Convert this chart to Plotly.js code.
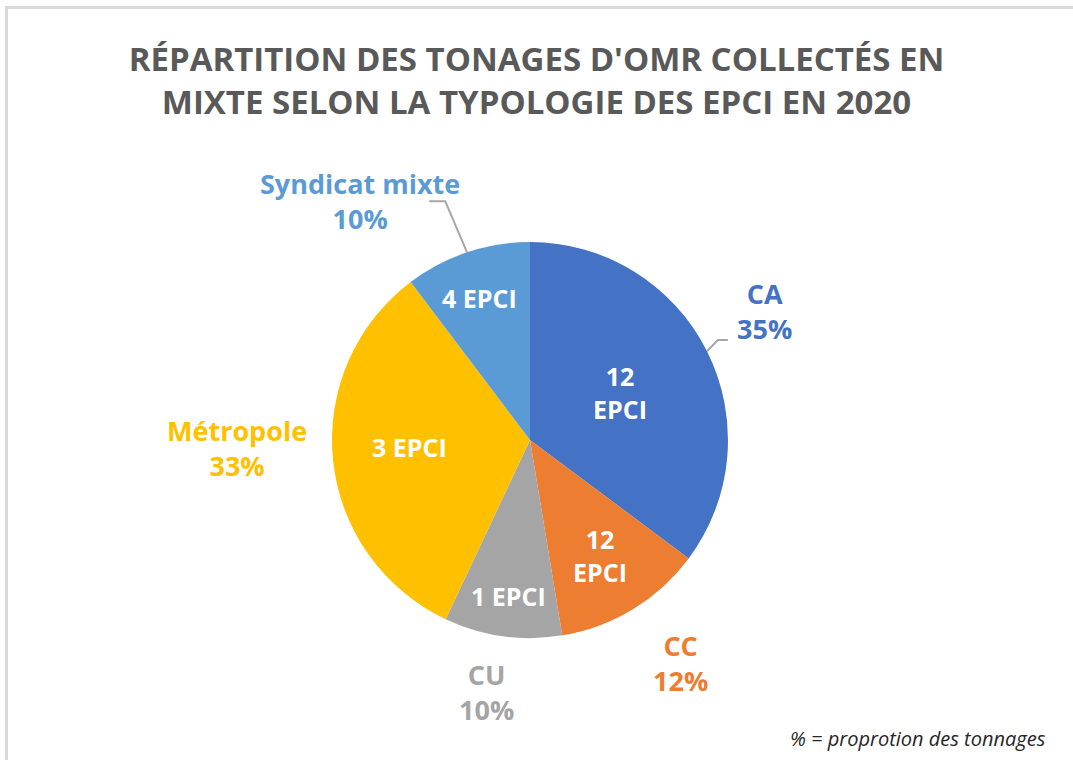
<!DOCTYPE html>
<html>
<head>
<meta charset="utf-8">
<script src="https://cdn.plot.ly/plotly-3.0.1.min.js"></script>
<style>
  html, body { margin: 0; padding: 0; background: #ffffff; }
  #chart { width: 1073px; height: 760px; }
</style>
</head>
<body>
<div id="chart"></div>
<script>
// ---- data ----
const categories = ['CA', 'CC', 'CU', 'Métropole', 'Syndicat mixte'];
const shares = [35.2, 12.2, 9.6, 32.7, 10.3];          // % of tonnages
const epciCounts = [12, 12, 1, 3, 4];                  // number of EPCI
const insideTexts = ['12<br>EPCI', '12<br>EPCI', '1 EPCI', '3 EPCI', '4 EPCI'];
const titleText = "RÉPARTITION DES TONAGES D'OMR COLLECTÉS EN<br>MIXTE SELON LA TYPOLOGIE DES EPCI EN 2020";
const footnoteText = '% = proprotion des tonnages';

// ---- styles / layout ----
const W = 1073, H = 760;
const colors = ['#4472C4', '#ED7D31', '#A5A5A5', '#FFC000', '#5B9BD5'];
const FONT = '"Open Sans", "DejaVu Sans", sans-serif';
const cx = 530, cy = 440, R = 198;        // pie centre & radius in px
const insideR = [0.515, 0.68, 0.795, 0.61, 0.76];
const insideDA = [-1, 0, 0, 2.7, -1];
const outsideR = [1.35, 1.36, 1.29, 1.48, 1.48];
const outsideDA = [-2.1, -2.6, 1.8, 4.4, -16.8];

const px2x = x => x / W;
const px2y = y => 1 - y / H;

const total = shares.reduce((a, b) => a + b, 0);
let cum = 0;
const midAngles = shares.map(v => { const m = (cum + v / 2) / total * 360; cum += v; return m; });
const polar = (deg, r) => {
  const t = deg * Math.PI / 180;
  return [cx + r * Math.sin(t), cy - r * Math.cos(t)];
};

const annotations = [];
categories.forEach((c, i) => {
  const [ix, iy] = polar(midAngles[i] + insideDA[i], R * insideR[i]);
  annotations.push({
    x: px2x(ix), y: px2y(iy), xref: 'paper', yref: 'paper',
    text: insideTexts[i], showarrow: false, xanchor: 'center', yanchor: 'middle',
    font: { family: FONT, size: 25, color: '#ffffff', weight: 'bold' }
  });
  const [ox, oy] = polar(midAngles[i] + outsideDA[i], R * outsideR[i]);
  const pct = Math.round(shares[i] / total * 100);
  annotations.push({
    x: px2x(ox), y: px2y(oy), xref: 'paper', yref: 'paper',
    text: c + '<br>' + pct + '%', showarrow: false, xanchor: 'center', yanchor: 'middle',
    font: { family: FONT, size: 27, color: colors[i], weight: 'bold' }
  });
});

annotations.push({
  x: px2x(1048), y: px2y(738), xref: 'paper', yref: 'paper',
  text: '<i>' + footnoteText + '</i>', showarrow: false, xanchor: 'right', yanchor: 'middle',
  font: { family: FONT, size: 20, color: '#262626' }
});

// leader lines (CA and Syndicat mixte)
function leader(i, elbowR, elbowDA, horiz) {
  const [sx, sy] = polar(midAngles[i], R);
  const [ex, ey] = polar(midAngles[i] + elbowDA, R * elbowR);
  const fx = ex + horiz;
  return {
    type: 'path', xref: 'paper', yref: 'paper',
    path: `M ${px2x(sx)},${px2y(sy)} L ${px2x(ex)},${px2y(ey)} L ${px2x(fx)},${px2y(ey)}`,
    line: { color: '#a6a6a6', width: 2 }
  };
}

const shapes = [
  leader(0, 1.075, -1.4, 10),
  leader(4, 1.28, -1.0, -16),
  // chart frame (top & left edges)
  { type: 'line', xref: 'paper', yref: 'paper', x0: px2x(5), x1: 1, y0: px2y(7.5), y1: px2y(7.5),
    line: { color: '#d9d9d9', width: 3 } },
  { type: 'line', xref: 'paper', yref: 'paper', x0: px2x(6.5), x1: px2x(6.5), y0: px2y(6), y1: 0,
    line: { color: '#d9d9d9', width: 3 } }
];

const trace = {
  type: 'pie',
  labels: categories,
  values: shares,
  customdata: epciCounts,
  sort: false,
  direction: 'clockwise',
  rotation: 0,
  textinfo: 'none',
  hovertemplate: '%{label}: %{percent}<br>%{customdata} EPCI<extra></extra>',
  marker: { colors: colors, line: { width: 0 } },
  domain: { x: [px2x(cx - R), px2x(cx + R)], y: [px2y(cy + R), px2y(cy - R)] },
  showlegend: false
};

const layout = {
  width: W, height: H,
  margin: { l: 0, r: 0, t: 0, b: 0 },
  paper_bgcolor: '#ffffff',
  title: {
    text: titleText,
    x: 0.5, xanchor: 'center',
    y: px2y(71), yref: 'container', yanchor: 'middle',
    font: { family: FONT, size: 33, color: '#595959', weight: 'bold' }
  },
  annotations: annotations,
  shapes: shapes,
  showlegend: false
};

Plotly.newPlot('chart', [trace], layout, { displayModeBar: false, staticPlot: true });
</script>
</body>
</html>
